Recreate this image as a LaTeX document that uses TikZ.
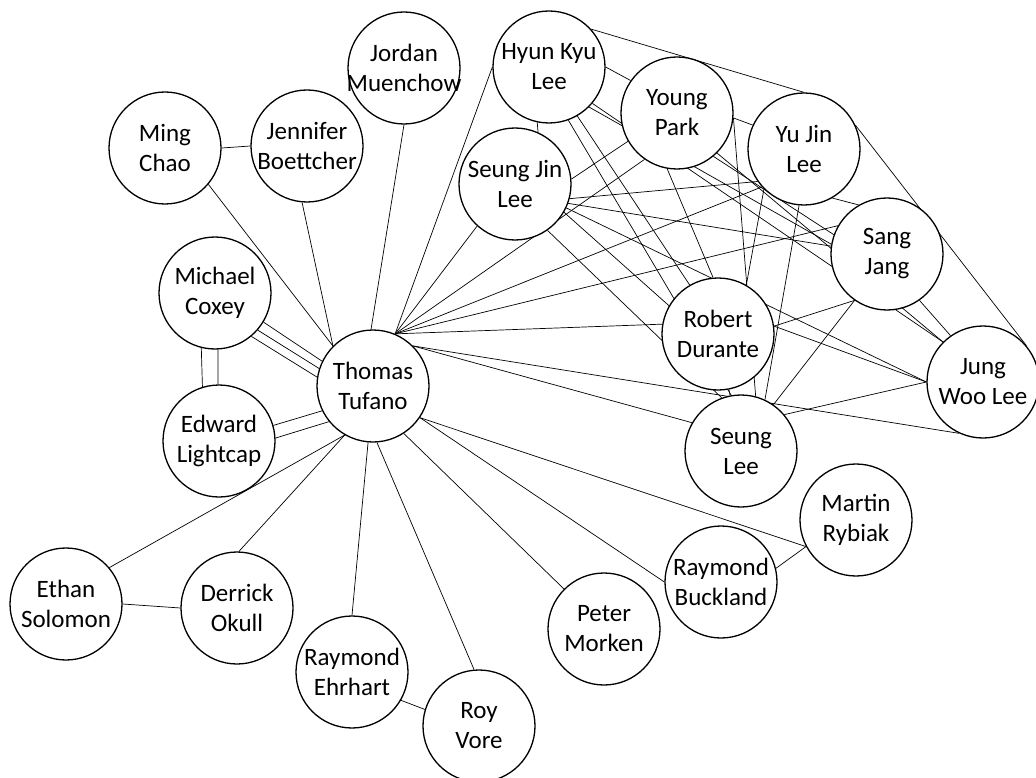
\documentclass[tikz,border=0pt]{standalone}
\usepackage{fontspec}
\setmainfont{Carlito}
\usetikzlibrary{backgrounds}
\begin{document}
\begin{tikzpicture}[x=1pt,y=-1pt,
  bub/.style={circle,draw,line width=1.3pt,fill=white,minimum size=112pt,inner sep=0pt},
  lbl/.style={align=center,font=\fontsize{25}{30}\selectfont,inner sep=0pt},
  con/.style={line width=0.7pt}]
\useasboundingbox (0,0) rectangle (1036,778);
% nodes
\node[bub] (mc) at (165,148) {};
\node[bub] (jb) at (307,146) {};
\node[bub] (jm) at (404,68) {};
\node[bub] (hk) at (549,67) {};
\node[bub] (yp) at (677,113) {};
\node[bub] (yj) at (804,149) {};
\node[bub] (sj) at (515,184) {};
\node[bub] (sg) at (887,254) {};
\node[bub] (mco) at (215,293) {};
\node[bub] (rd) at (718,334) {};
\node[bub] (tt) at (373,386) {};
\node[bub] (jw) at (983,382) {};
\node[bub] (el) at (219,441) {};
\node[bub] (sl) at (741,451) {};
\node[bub] (mr) at (856,520) {};
\node[bub] (rb) at (721,582) {};
\node[bub] (es) at (66,604) {};
\node[bub] (do) at (237,608) {};
\node[bub] (pm) at (604,629) {};
\node[bub] (re) at (352,672) {};
\node[bub] (rv) at (479,726) {};
% labels
\node[lbl] (mc-t) at (mc) {Ming\\Chao};
\node[lbl] (jb-t) at (jb) {Jennifer\\Boettcher};
\node[lbl] (jm-t) at (jm) {Jordan\\Muenchow};
\node[lbl] (hk-t) at (hk) {Hyun Kyu\\Lee};
\node[lbl] (yp-t) at (yp) {Young\\Park};
\node[lbl] (yj-t) at (yj) {Yu Jin\\Lee};
\node[lbl] (sj-t) at (sj) {Seung Jin\\Lee};
\node[lbl] (sg-t) at (sg) {Sang\\Jang};
\node[lbl] (mco-t) at (mco) {Michael\\Coxey};
\node[lbl] (rd-t) at (rd) {Robert\\Durante};
\node[lbl] (tt-t) at (tt) {Thomas\\Tufano};
\node[lbl] (jw-t) at (jw) {Jung\\Woo Lee};
\node[lbl] (el-t) at (el) {Edward\\Lightcap};
\node[lbl] (sl-t) at (sl) {Seung\\Lee};
\node[lbl] (mr-t) at (mr) {Martin\\Rybiak};
\node[lbl] (rb-t) at (rb) {Raymond\\Buckland};
\node[lbl] (es-t) at (es) {Ethan\\Solomon};
\node[lbl] (do-t) at (do) {Derrick\\Okull};
\node[lbl] (pm-t) at (pm) {Peter\\Morken};
\node[lbl] (re-t) at (re) {Raymond\\Ehrhart};
\node[lbl] (rv-t) at (rv) {Roy\\Vore};
\begin{pgfonlayer}{background}
% periphery
\draw[con] (mc.0) -- (jb.180);
\draw[con] (mc.-40) -- (tt.135);
\draw[con] (jb.-95) -- (tt.135);
\draw[con] (jm.-90) -- (tt.92);
\draw[con] (mco.-31) -- (tt.154);
\draw[con] (mco.-41) -- (tt.162);
\draw[con] (mco.-50) -- (tt.171);
\draw[con] (mco.256) -- (el.107);
\draw[con] (mco.273) -- (el.91);
\draw[con] (el.16) -- (tt.206);
\draw[con] (el.3) -- (tt.219);
\draw[con] (es.0) -- (do.180);
\draw[con] (es.40) -- (tt.240);
\draw[con] (do.88) -- (tt.240);
\draw[con] (re.90) -- (tt.265);
\draw[con] (rv.95) -- (tt.274);
\draw[con] (re.-30) -- (rv.163);
\draw[con] (pm.135) -- (tt.-57);
\draw[con] (rb.180) -- (tt.-34);
\draw[con] (mr.208) -- (tt.-34);
\draw[con] (rb.14) -- (mr.208);
% Thomas to cluster
\draw[con] (tt.67) -- (hk.180);
\draw[con] (tt.67) -- (sj.228);
\draw[con] (tt.67) -- (yp.235);
\draw[con] (tt.67) -- (yj.222);
\draw[con] (tt.67) -- (sg.150);
\draw[con] (tt.67) -- (rd.170);
\draw[con] (tt.45) -- (jw.245);
\draw[con] (tt.45) -- (sl.150);
% cluster
\draw[con] (hk.258) -- (sj.66);
\draw[con] (hk.0) -- (yp.145);
\draw[con] (hk.42) -- (yj.90);
\draw[con] (hk.-45) -- (sg.170);
\draw[con] (hk.-60) -- (rd.120);
\draw[con] (hk.-40) -- (jw.135);
\draw[con] (hk.-70) -- (sl.100);
\draw[con] (sj.5) -- (yp.210);
\draw[con] (sj.-15) -- (yj.215);
\draw[con] (sj.-20) -- (sg.172);
\draw[con] (sj.-30) -- (rd.150);
\draw[con] (sj.-25) -- (jw.180);
\draw[con] (sj.-55) -- (sl.110);
\draw[con] (yp.-5) -- (yj.155);
\draw[con] (yp.-50) -- (sg.160);
\draw[con] (yp.-100) -- (rd.95);
\draw[con] (yp.-45) -- (jw.135);
\draw[con] (yp.-5) -- (sl.75);
\draw[con] (yj.-60) -- (sg.120);
\draw[con] (yj.225) -- (rd.60);
\draw[con] (yj.25) -- (jw.40);
\draw[con] (yj.-95) -- (sl.65);
\draw[con] (sg.235) -- (rd.8);
\draw[con] (sg.-55) -- (jw.125);
\draw[con] (sg.235) -- (sl.55);
\draw[con] (rd.8) -- (jw.180);
\draw[con] (rd) -- (sl);
\draw[con] (jw.180) -- (sl.40);
\end{pgfonlayer}
\end{tikzpicture}
\end{document}
